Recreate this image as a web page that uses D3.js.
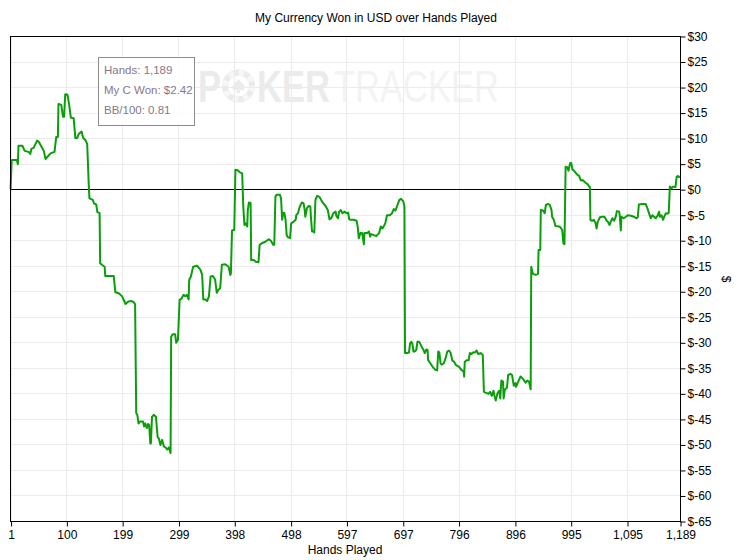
<!DOCTYPE html>
<html>
<head>
<meta charset="utf-8">
<script src="https://cdn.jsdelivr.net/npm/d3@7"></script>
<style>
  body { margin: 0; background: #fff; }
  svg { display: block; font-family: "Liberation Sans", Arial, sans-serif; }
</style>
</head>
<body>
<svg id="chart" width="738" height="560"></svg>
<script>
// ---- Data ----
const chartTitle = "My Currency Won in USD over Hands Played";
const xTitle = "Hands Played";
const yTitle = "$";

const xTickValues = [1, 100, 199, 299, 398, 498, 597, 697, 796, 896, 995, 1095, 1189];
const xTickLabels = ["1", "100", "199", "299", "398", "498", "597", "697", "796", "896", "995", "1,095", "1,189"];
const yTickValues = [30, 25, 20, 15, 10, 5, 0, -5, -10, -15, -20, -25, -30, -35, -40, -45, -50, -55, -60, -65];

const tooltipLines = ["Hands: 1,189", "My C Won: $2.42", "BB/100: 0.81"];

const hands = [
  1,3,12,14,15,22,26,33,36,38,42,48,51,56,60,63,67,72,79,82,85,86,91,94,96,98,102,105,108,113,116,119,122,127,130,134,137,140,141,147,149,153,155,159,160,163,168,169,184,187,193,199,205,210,215,219,222,
  224,226,228,231,236,238,240,243,245,247,249,250,252,255,259,262,264,267,270,273,276,279,282,285,286,289,293,295,298,301,304,308,311,314,317,318,321,325,332,338,341,343,347,350,353,356,360,364,367,370,373,376,382,388,391,392,394,398,400,404,408,412,414,416,418,421,422,424,427,428,433,436,441,443,
  447,453,459,463,467,469,471,473,479,481,483,485,487,489,491,493,497,499,503,507,508,511,514,518,521,523,524,527,530,533,534,536,539,540,542,545,549,552,556,560,564,567,570,574,578,579,582,584,587,590,594,597,600,602,604,610,615,617,619,622,625,628,629,634,637,639,641,646,650,655,658,661,663,666,669,674,678,681,684,687,691,694,698,700,
  701,705,708,710,712,714,716,718,721,723,726,729,732,734,736,739,741,742,746,750,755,758,760,762,764,766,770,773,776,779,782,785,788,791,797,801,805,806,807,811,814,816,819,821,825,828,831,835,839,841,845,849,852,855,858,860,862,865,868,870,872,875,876,878,881,882,884,888,891,894,897,898,902,906,909,912,915,918,921,924,925,928,933,937,938,941,
  942,946,949,951,955,958,961,962,965,968,974,977,980,982,984,986,989,991,994,996,998,1001,1004,1007,1010,1013,1016,1019,1022,1025,1027,1029,1030,1033,1036,1039,1041,1043,1047,1051,1055,1059,1061,1064,1066,1069,1072,1075,1077,1081,1082,1084,1085,1089,1093,1096,1102,1107,1112,1114,1116,1122,1128,1131,1134,1137,1140,1143,1146,1149,1152,1153,1156,1159,1161,1164,1167,1169,1171,1174,1177,1181,1183,1185,1187,1189
];

const won = [
  0,5.7,5.7,4.9,8.5,8.5,7.5,7.3,6.9,7.9,8.1,9.5,9.3,8.3,7.5,5.9,6.4,7.0,7.3,10.2,10.2,16.7,16.5,14.2,14.2,18.6,18.5,16.5,14.0,13.9,10.0,10.0,10.8,11.3,10.0,9.6,8.8,0.2,-1.8,-2.1,-2.8,-3.0,-4.5,-4.7,-14.5,-14.8,-15.2,-17.0,-17.0,-20.2,-20.4,-21.0,-22.5,-22.0,-21.9,-22.1,-22.5,
  -43.9,-44.2,-45.9,-45.5,-45.5,-46.5,-45.9,-46.8,-46.0,-46.2,-49.8,-49.8,-44.6,-44.2,-44.6,-48.6,-48.8,-50.1,-49.1,-50.4,-50.6,-51.0,-50.6,-51.7,-28.9,-28.4,-28.4,-30.1,-29.5,-21.7,-21.5,-20.7,-21.0,-20.7,-21.6,-17.8,-17.1,-15.2,-15.0,-15.8,-16.8,-21.6,-21.6,-21.9,-21.0,-17.1,-17.0,-17.7,-20.3,-19.7,-19.4,-14.8,-14.7,-15.2,-16.8,-16.5,-8.1,-8.0,3.8,3.7,3.3,3.1,-3.4,-7.0,-6.7,-7.3,-4.1,-2.6,-2.7,-13.9,-13.9,-14.2,-14.3,-10.9,
  -10.6,-10.3,-9.8,-10.1,-10.9,-10.9,-1.5,-1.1,-1.1,-1.8,-6.0,-4.6,-4.7,-6.0,-9.0,-9.4,-9.6,-6.7,-6.4,-6.0,-5.1,-4.7,-3.5,-2.6,-2.8,-4.1,-5.4,-3.7,-3.3,-3.4,-5.4,-8.3,-8.3,-8.5,-2.1,-1.3,-1.5,-2.1,-2.8,-3.3,-4.1,-5.9,-5.7,-4.7,-4.4,-5.2,-5.7,-4.4,-4.1,-4.7,-4.4,-4.7,-4.6,-5.9,-6.0,-6.0,-6.2,-7.3,-9.6,-8.6,-8.6,-10.8,-8.6,-8.6,-8.3,-9.3,-8.8,-9.0,-9.2,-8.6,-7.3,-7.7,-7.3,-6.7,-5.1,-5.1,-4.7,-3.9,-4.2,-3.3,-2.1,-1.9,-2.4,-3.4,
  -32.1,-32.1,-32.0,-30.2,-29.9,-30.2,-31.8,-31.8,-31.5,-29.9,-29.9,-30.5,-31.2,-31.5,-32.1,-31.4,-31.5,-33.5,-34.1,-34.8,-35.4,-35.5,-31.8,-32.0,-34.1,-34.4,-34.1,-33.1,-31.8,-31.6,-32.1,-33.6,-33.8,-34.4,-34.8,-35.4,-35.7,-36.7,-33.8,-33.5,-33.5,-32.1,-32.3,-32.0,-32.0,-31.6,-32.3,-32.1,-32.5,-39.7,-39.9,-40.1,-39.7,-40.5,-39.5,-40.6,-41.4,-40.0,-39.5,-41.0,-37.5,-37.7,-41.0,-39.3,-39.0,-38.8,-36.4,-36.2,-36.4,-38.5,-38.0,-38.7,-37.7,-36.7,-37.0,-37.4,-37.9,-37.5,-37.7,-39.2,-15.2,-16.6,-16.8,-16.6,-11.9,-11.9,
  -4.1,-4.2,-4.7,-3.1,-2.9,-3.1,-4.1,-5.4,-6.0,-7.2,-7.3,-7.5,-8.0,-10.6,-10.8,4.4,4.3,3.6,5.1,5.1,3.9,3.6,3.2,2.8,2.6,1.7,1.8,1.5,1.2,1.0,0.6,0.4,-6.0,-6.2,-6.0,-6.6,-7.7,-6.4,-5.5,-5.4,-5.4,-6.2,-6.4,-7.0,-6.4,-5.7,-6.2,-5.4,-4.3,-4.4,-5.1,-8.1,-5.4,-5.7,-5.4,-5.1,-5.2,-5.4,-5.7,-5.5,-3.0,-2.9,-2.9,-3.7,-4.7,-5.7,-5.1,-5.4,-5.7,-5.2,-4.4,-5.4,-5.1,-6.0,-5.4,-4.7,-4.8,-4.6,0.5,0.2,0.5,0.4,2.4,2.6,2.4,2.42
];

// ---- Layout ----
const svg = d3.select("#chart");
const plot = { left: 10, right: 680, top: 36, bottom: 521 };

const x = d3.scaleLinear().domain([0, 1189]).range([plot.left, plot.right]);
const y = d3.scaleLinear().domain([-65, 30]).range([plot.bottom, plot.top]);

svg.append("rect").attr("width", 738).attr("height", 560).attr("fill", "#fff");

// ---- Watermark (one text element, horizontally condensed) ----
const wm = svg.append("g").attr("class", "watermark");
const chip = wm.append("g").attr("transform", "translate(238.5,86)");
chip.append("circle").attr("r", 16.5).attr("fill", "#ebebeb");
chip.append("circle").attr("r", 13.5).attr("fill", "none").attr("stroke", "#f7f7f7")
  .attr("stroke-width", 5).attr("stroke-dasharray", "5.3 5.3");
chip.append("circle").attr("r", 10.5).attr("fill", "#fff");
chip.append("path")
  .attr("d", "M0,-7 C3,-3 7,-1 6,2.5 C5,5 2,5 0.8,3 L2,7 L-2,7 L-0.8,3 C-2,5 -5,5 -6,2.5 C-7,-1 -3,-3 0,-7 Z")
  .attr("fill", "#ebebeb");
const wmText = wm.append("g").attr("transform", "translate(198,102) scale(0.785,1)")
  .append("text").attr("font-size", 44);
wmText.append("tspan").attr("x", 0).attr("font-weight", "bold").attr("fill", "#ebebeb").text("P");
wmText.append("tspan").attr("x", 75.2).attr("font-weight", "bold").attr("fill", "#ebebeb").text("KER");
wmText.append("tspan").attr("x", 173.2).attr("font-weight", "normal").attr("fill", "#f3f3f3").text("TRACKER");

// ---- Grid ----
const grid = svg.append("g").attr("stroke", "#ebebeb").attr("stroke-width", 1);
grid.selectAll("line.h").data(yTickValues).join("line")
  .attr("x1", plot.left).attr("x2", plot.right)
  .attr("y1", d => Math.round(y(d)) + 0.5).attr("y2", d => Math.round(y(d)) + 0.5);
grid.selectAll("line.v").data(xTickValues).join("line")
  .attr("y1", plot.top).attr("y2", plot.bottom)
  .attr("x1", d => Math.round(x(d)) + 0.5).attr("x2", d => Math.round(x(d)) + 0.5);

// ---- Zero line ----
svg.append("line")
  .attr("x1", plot.left).attr("x2", plot.right)
  .attr("y1", Math.round(y(0)) + 0.5).attr("y2", Math.round(y(0)) + 0.5)
  .attr("stroke", "#000").attr("stroke-width", 1);

// ---- Series line ----
const pts = hands.map((h, i) => [h, won[i]]);
svg.append("path")
  .datum(pts)
  .attr("fill", "none")
  .attr("stroke", "#0a9e0a")
  .attr("stroke-width", 2)
  .attr("stroke-linejoin", "round")
  .attr("d", d3.line().x(d => x(d[0])).y(d => y(d[1])));

// ---- Frame ----
svg.append("rect")
  .attr("x", plot.left + 0.5).attr("y", plot.top + 0.5)
  .attr("width", plot.right - plot.left).attr("height", plot.bottom - plot.top)
  .attr("fill", "none").attr("stroke", "#000");

// ---- Axes ----
const xAxis = d3.axisBottom(x)
  .tickValues(xTickValues)
  .tickFormat((d, i) => xTickLabels[i])
  .tickSize(5).tickSizeOuter(0).tickPadding(4);
const gx = svg.append("g").attr("transform", `translate(0.5,${plot.bottom + 0.5})`).call(xAxis);
gx.select(".domain").remove();
gx.selectAll("text").attr("font-size", 12).attr("fill", "#000").attr("font-family", "Liberation Sans, Arial, sans-serif");

const yAxis = d3.axisRight(y)
  .tickValues(yTickValues)
  .tickFormat(d => "$" + d)
  .tickSize(5).tickSizeOuter(0).tickPadding(2);
const gy = svg.append("g").attr("transform", `translate(${plot.right + 0.5},0.5)`).call(yAxis);
gy.select(".domain").remove();
gy.selectAll("text").attr("font-size", 12).attr("fill", "#000").attr("font-family", "Liberation Sans, Arial, sans-serif");

// ---- Titles ----
svg.append("text").attr("x", 376).attr("y", 22).attr("text-anchor", "middle")
  .attr("font-size", 12).attr("fill", "#000").text(chartTitle);
svg.append("text").attr("x", 345).attr("y", 554).attr("text-anchor", "middle")
  .attr("font-size", 12).attr("fill", "#000").text(xTitle);
svg.append("text").attr("transform", "translate(722,279) rotate(90)").attr("text-anchor", "middle")
  .attr("font-size", 12).attr("fill", "#000").text(yTitle);

// ---- Tooltip ----
const tip = svg.append("g").attr("transform", "translate(98.5,57.5)");
tip.append("rect").attr("width", 96).attr("height", 68)
  .attr("fill", "#fff").attr("fill-opacity", 0.85).attr("stroke", "#8c8c8c");
tip.selectAll("text").data(tooltipLines).join("text")
  .attr("x", 5.5).attr("y", (d, i) => 16 + i * 20)
  .attr("font-size", 11.5).attr("fill", "#85788a")
  .attr("font-family", "Liberation Sans, Arial, sans-serif")
  .text(d => d);
</script>
</body>
</html>
